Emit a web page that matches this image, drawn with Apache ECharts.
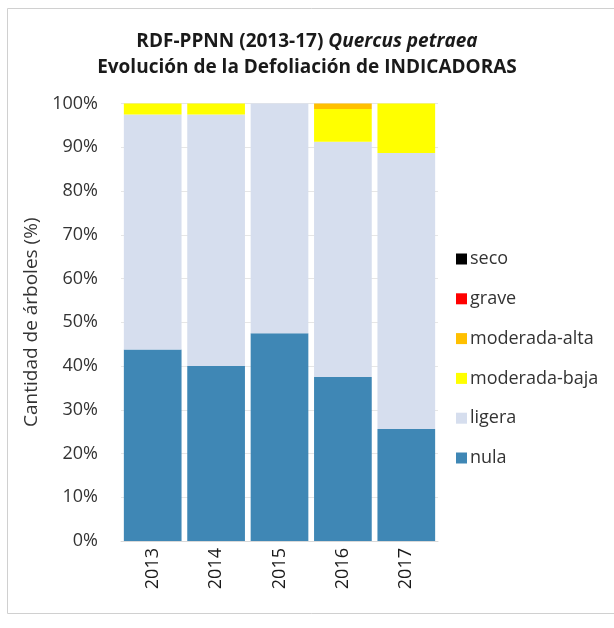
<!DOCTYPE html>
<html><head><meta charset="utf-8">
<script src="https://cdn.jsdelivr.net/npm/echarts@6/dist/echarts.min.js"></script>
<style>html,body{margin:0;padding:0;background:#fff}#c{width:614px;height:628px}</style>
</head><body><div id="c"></div>
<script>
var years = ['2013','2014','2015','2016','2017'];
var nula = [43.75, 40.0, 47.5, 37.5, 25.6];
var ligera = [53.75, 57.5, 52.5, 53.75, 63.1];
var modBaja = [2.5, 2.5, 0, 7.5, 11.3];
var modAlta = [0, 0, 0, 1.25, 0];
var grave = [0, 0, 0, 0, 0];
var seco = [0, 0, 0, 0, 0];
var yTicks = ['0%','10%','20%','30%','40%','50%','60%','70%','80%','90%','100%'];

var seriesNames = ['nula','ligera','moderada-baja','moderada-alta','grave','seco'];
var seriesData = [nula, ligera, modBaja, modAlta, grave, seco];
var seriesColors = ['#3F87B5','#D6DEEE','#FFFF00','#FFC000','#FF0000','#000000'];
var F = 'Open Sans';

var chart = echarts.init(document.getElementById('c'));
chart.setOption({
  backgroundColor: '#fff',
  animation: false,
  graphic: [{type:'rect', shape:{x:7.5,y:8.5,width:620,height:605}, style:{fill:'none', stroke:'#d0d0d0', lineWidth:1}, silent:true}],
  title: {
    left: 'center', top: 24, itemGap: 4,
    text: '{b|RDF-PPNN (2013-17) }{i|Quercus petraea}\n{b|Evolución de la Defoliación de INDICADORAS}',
    textStyle: {
      rich: {
        b: {fontFamily: F, fontWeight: 'bold', fontSize: 19, color: '#1a1a1a', lineHeight: 26},
        i: {fontFamily: F, fontWeight: 'bold', fontStyle: 'italic', fontSize: 19, color: '#1a1a1a', lineHeight: 26}
      }
    }
  },
  legend: {
    orient: 'vertical', left: 451, top: 245, itemGap: 21.8,
    itemWidth: 11, itemHeight: 11, icon: 'rect',
    data: seriesNames.slice().reverse(),
    textStyle: {fontFamily: F, fontSize: 18, color: '#333', padding: [0,0,0,-2]}
  },
  grid: {left: 121, right: 176, top: 103.5, bottom: 87, containLabel: false},
  xAxis: {
    type: 'category', data: years,
    axisLine: {show: true, lineStyle: {color: '#d9d9d9'}},
    axisTick: {show: false},
    axisLabel: {rotate: 90, fontFamily: F, fontSize: 18, color: '#1a1a1a', margin: 7}
  },
  yAxis: {
    type: 'value', min: 0, max: 100, interval: 10,
    name: 'Cantidad de árboles (%)', nameLocation: 'middle', nameGap: 79,
    nameTextStyle: {fontFamily: F, fontSize: 19, color: '#333'},
    axisLine: {show: false}, axisTick: {show: false},
    axisLabel: {fontFamily: F, fontSize: 18, color: '#333', margin: 23,
      formatter: function(v){ return yTicks[Math.round(v/10)]; }},
    splitLine: {lineStyle: {color: '#e6e6e6'}}
  },
  series: seriesNames.map(function(n, i){
    return {name: n, type: 'bar', stack: 'a', data: seriesData[i],
      barCategoryGap: '9%', itemStyle: {color: seriesColors[i]}};
  })
});
</script></body></html>
